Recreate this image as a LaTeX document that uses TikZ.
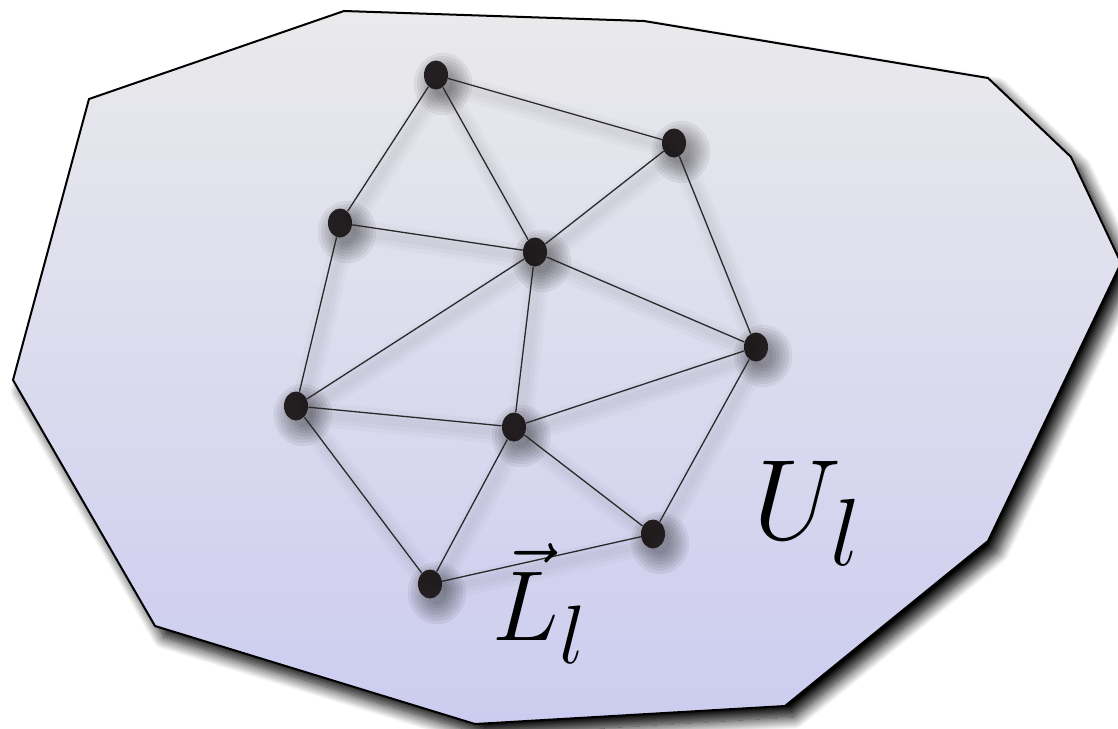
\documentclass[tikz,border=0pt]{standalone}
\usetikzlibrary{shapes.geometric,shadows.blur}
\definecolor{topfill}{HTML}{EAEAEC}
\definecolor{botfill}{HTML}{CCCCF0}
\definecolor{dotcol}{HTML}{231F20}
\definecolor{edgecol}{HTML}{2A2A2A}
\tikzset{
  region/.style={draw=black, line width=1pt, line join=miter, top color=topfill, bottom color=botfill,
    blur shadow={shadow xshift=4.5pt, shadow yshift=-5.5pt, shadow blur radius=6pt, shadow blur steps=14, shadow opacity=100}},
  vertex/.style={ellipse, fill=dotcol, minimum width=12pt, minimum height=14.5pt, inner sep=0pt},
  dotshade/.style={fill=black, opacity=0.06},
  link/.style={draw=edgecol, line width=0.65pt},
  lsa/.style={draw=black, line width=12pt, opacity=0.018, line cap=round,
    transform canvas={shift={(2.5pt,-3.5pt)}}},
  lsb/.style={draw=black, line width=8pt, opacity=0.022, line cap=round,
    transform canvas={shift={(2.5pt,-3.5pt)}}},
  lsc/.style={draw=black, line width=4pt, opacity=0.025, line cap=round,
    transform canvas={shift={(2.5pt,-3.5pt)}}},
  lbl/.style={inner sep=0pt, font=\Huge}
}
\begin{document}
\begin{tikzpicture}[x=0.5pt, y=-0.5pt]
\useasboundingbox (0,0) rectangle (1118,728);
\path[region] (344,11) -- (644,21) -- (988,78) -- (1071,157) -- (1121,263) -- (988,541)
  -- (785,706) -- (475,724) -- (155,626) -- (13,380) -- (89,99) -- cycle;
\foreach \n/\x/\y in {A/436/75,B/674/143,C/340/223,D/535/252,E/756/347,F/296/406,G/514/427,H/653/534,I/430/584}{
  \foreach \k in {0,...,6}{
    \fill[dotshade] (\x+7,\y+9) ellipse [x radius={5pt+1.6pt*\k}, y radius={6pt+1.6pt*\k}];
  }
}
\node[vertex] (A) at (436,75) {};
\node[vertex] (B) at (674,143) {};
\node[vertex] (C) at (340,223) {};
\node[vertex] (D) at (535,252) {};
\node[vertex] (E) at (756,347) {};
\node[vertex] (F) at (296,406) {};
\node[vertex] (G) at (514,427) {};
\node[vertex] (H) at (653,534) {};
\node[vertex] (I) at (430,584) {};
\foreach \s/\t in {A/B,A/C,A/D,B/D,B/E,C/D,C/F,D/F,D/G,D/E,F/G,F/I,G/I,G/E,G/H,E/H,I/H}{
  \draw[lsa] (\s) -- (\t);
  \draw[lsb] (\s) -- (\t);
  \draw[lsc] (\s) -- (\t);
}
\foreach \s/\t in {A/B,A/C,A/D,B/D,B/E,C/D,C/F,D/F,D/G,D/E,F/G,F/I,G/I,G/E,G/H,E/H,I/H}{
  \draw[link] (\s) -- (\t);
}
\node[lbl, scale=2.0, anchor=base west] (Ll) at (492,640) {$\vec{L}_l$};
\node[lbl, scale=2.3, anchor=base west] (Ul) at (753,539) {$U_l$};
\end{tikzpicture}
\end{document}
